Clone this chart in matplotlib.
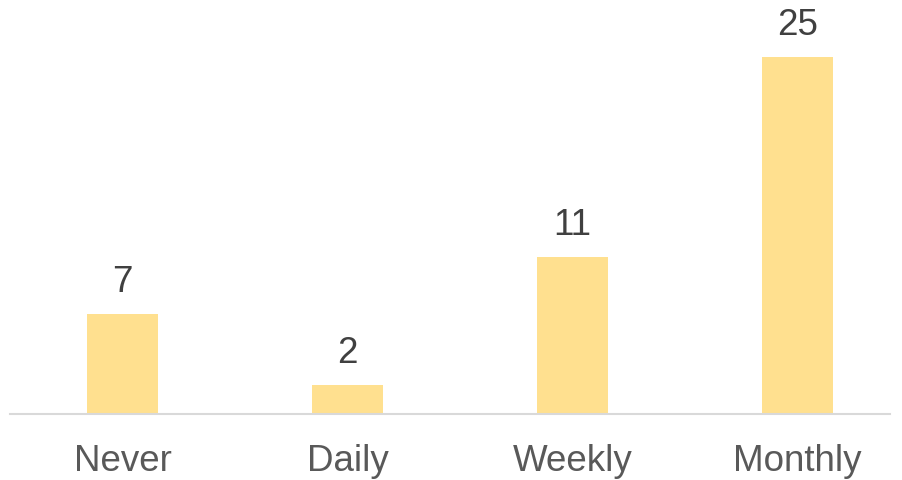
import matplotlib.pyplot as plt

categories = ['Never', 'Daily', 'Weekly', 'Monthly']
counts = [7, 2, 11, 25]

plt.rcParams['font.family'] = ['Liberation Sans', 'DejaVu Sans']

fig = plt.figure(figsize=(9.03, 4.81), dpi=100)
# axes placed so the baseline sits at y=415px and spans x=10..890px
ax = fig.add_axes([10 / 903, (481 - 415) / 481, 880 / 903, 415 / 481])

x = range(len(categories))
bars = ax.bar(x, counts, width=0.315, color='#FFE08F', zorder=2)

for rect, v in zip(bars, counts):
    ax.annotate(str(v), (rect.get_x() + rect.get_width() / 2, v),
                xytext=(0, 11), textcoords='offset points',
                ha='center', va='bottom', fontsize=26.5, color='#404040')

ax.set_xlim(-0.5, 3.41)
ax.set_ylim(0, 29.1)
ax.set_xticks(list(x))
ax.set_xticklabels(categories, fontsize=26.5, color='#595959')
ax.tick_params(axis='x', length=0, pad=21)
ax.set_yticks([])

for side in ['top', 'right', 'left']:
    ax.spines[side].set_visible(False)
ax.spines['bottom'].set_color('#D9D9D9')
ax.spines['bottom'].set_linewidth(1.5)

fig.savefig('out.png', dpi=100)
